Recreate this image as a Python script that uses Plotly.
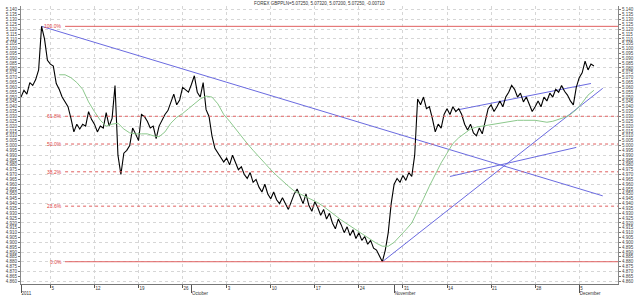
import plotly.graph_objects as go

# ---------------- data ----------------
close = [5.050, 5.057, 5.053, 5.065, 5.062, 5.068, 5.078, 5.123, 5.110, 5.088,
         5.084, 5.082, 5.064, 5.058, 5.050, 5.045, 5.040, 5.028, 5.014, 5.022,
         5.017, 5.022, 5.020, 5.035, 5.027, 5.022, 5.014, 5.020, 5.018, 5.034,
         5.020, 5.028, 5.062, 4.990, 4.970, 4.992, 4.995, 5.000, 5.018, 5.012,
         5.005, 5.032, 5.030, 5.025, 5.018, 5.020, 5.007, 5.020, 5.026, 5.032,
         5.036, 5.044, 5.053, 5.042, 5.047, 5.060, 5.057, 5.055, 5.063, 5.072,
         5.055, 5.050, 5.065, 5.037, 5.030, 5.010, 4.997, 4.992, 4.988, 4.983,
         4.987, 4.980, 4.990, 4.982, 4.975, 4.978, 4.970, 4.966, 4.972, 4.962,
         4.965, 4.957, 4.952, 4.960, 4.950, 4.945, 4.952, 4.944, 4.940, 4.946,
         4.940, 4.934, 4.942, 4.950, 4.955, 4.947, 4.940, 4.950, 4.938, 4.932,
         4.942, 4.936, 4.928, 4.934, 4.924, 4.930, 4.920, 4.914, 4.924, 4.918,
         4.910, 4.916, 4.907, 4.913, 4.904, 4.910, 4.902, 4.906, 4.898, 4.902,
         4.894, 4.892, 4.886, 4.880, 4.892, 4.910, 4.940, 4.960, 4.966, 4.962,
         4.969, 4.964, 4.972, 4.968, 4.990, 5.048, 5.042, 5.050, 5.038, 5.040,
         5.028, 5.014, 5.022, 5.018, 5.032, 5.038, 5.032, 5.040, 5.035, 5.038,
         5.032, 5.022, 5.016, 5.022, 5.013, 5.010, 5.018, 5.012, 5.025, 5.038,
         5.042, 5.035, 5.040, 5.046, 5.040, 5.050, 5.055, 5.062, 5.058, 5.050,
         5.054, 5.045, 5.050, 5.042, 5.035, 5.040, 5.046, 5.040, 5.050, 5.046,
         5.054, 5.050, 5.058, 5.055, 5.062, 5.056, 5.052, 5.046, 5.042, 5.060,
         5.070, 5.075, 5.087, 5.078, 5.084, 5.082]

ma_bars = list(range(13, 196, 2))
ma_vals = [5.073, 5.073, 5.070, 5.065, 5.058, 5.045, 5.035, 5.026, 5.020, 5.022,
           5.023, 5.017, 5.013, 5.012, 5.012, 5.012, 5.010, 5.009, 5.014, 5.023,
           5.029, 5.033, 5.038, 5.043, 5.048, 5.051, 5.050, 5.043, 5.032, 5.025,
           5.017, 5.009, 5.002, 4.995, 4.988, 4.982, 4.975, 4.969, 4.963, 4.958,
           4.953, 4.950, 4.947, 4.944, 4.941, 4.937, 4.932, 4.928, 4.923, 4.919,
           4.915, 4.911, 4.907, 4.903, 4.899, 4.896, 4.896, 4.900, 4.906, 4.913,
           4.920, 4.932, 4.945, 4.958, 4.970, 4.982, 4.992, 5.002, 5.008, 5.013,
           5.017, 5.019, 5.020, 5.021, 5.022, 5.023, 5.024, 5.025, 5.026, 5.026,
           5.026, 5.026, 5.025, 5.024, 5.025, 5.027, 5.029, 5.032, 5.037, 5.044,
           5.052, 5.057]

# trendlines: start bar, start price, end bar, end price
tl_x0 = [7, 123, 149, 146]
tl_y0 = [5.123, 4.880, 5.037, 4.968]
tl_x1 = [198, 198, 194, 189]
tl_y1 = [4.948, 5.059, 5.064, 4.998]

fib_ratios = [1.0, 0.618, 0.5, 0.382, 0.236, 0.0]
fib_labels = ["100.0%", "61.8%", "50.0%", "38.2%", "23.6%", "0.0%"]
fib_start = 15

week_ticks = [10, 25, 40, 55, 70, 85, 100, 115, 130, 145, 160, 175, 190]
week_labels = ["5", "12", "19", "26", "3", "10", "17", "24", "31", "14", "21", "28", "5"]
month_ticks = [0, 58, 127, 190]
month_labels = ["2011", "October", "November", "December"]

title_text = "FOREX GBPPLN=5.07250, 5.07320, 5.07200, 5.07250, -0.00710"

X_RANGE = [0, 203.2]
Y_RANGE = [4.857, 5.144]
FONT = "Liberation Sans"

fig = go.Figure()

# fibonacci retracement lines
hi, lo = max(close), min(close)
for r, lab in zip(fib_ratios, fib_labels):
    lvl = lo + r * (hi - lo)
    solid = r in (0.0, 1.0)
    fig.add_trace(go.Scatter(x=[fib_start, X_RANGE[1]], y=[lvl, lvl], mode="lines",
                             line=dict(color="#e06060", width=1, dash="solid" if solid else "dot"),
                             xaxis="x2", yaxis="y3", hoverinfo="skip"))
    fig.add_annotation(x=fib_start - 0.5, y=lvl, xref="x", yref="y", text=lab,
                       showarrow=False, xanchor="right", yanchor="middle",
                       font=dict(size=5, color="#e04040", family=FONT))

# trendlines
for a, b, c, d in zip(tl_x0, tl_y0, tl_x1, tl_y1):
    fig.add_trace(go.Scatter(x=[a, c], y=[b, d], mode="lines",
                             line=dict(color="#6a6ae0", width=1), hoverinfo="skip"))

# moving average
fig.add_trace(go.Scatter(x=ma_bars, y=ma_vals, mode="lines",
                         line=dict(color="#8cc88c", width=1), yaxis="y2"))

# price
fig.add_trace(go.Scatter(x=list(range(len(close))), y=close, mode="lines",
                         line=dict(color="#000000", width=1.1)))

tickfont = dict(size=4.5, color="#444", family=FONT)
common_y = dict(range=Y_RANGE, dtick=0.005, tick0=0, tickformat=".3f", ticks="outside",
                ticklen=2, tickcolor="#777", showgrid=False, zeroline=False,
                showline=True, linecolor="#888", linewidth=1, tickfont=tickfont)

fig.update_layout(
    width=640, height=302,
    margin=dict(l=13, r=13, t=6, b=9),
    paper_bgcolor="white", plot_bgcolor="white",
    showlegend=False,
    xaxis=dict(range=X_RANGE, tickvals=week_ticks, ticktext=week_labels,
               ticks="outside", ticklen=3, tickcolor="#555",
               ticklabelposition="outside right", ticklabelstandoff=0,
               showgrid=True, gridcolor="#d6d6d6", griddash="dot", gridwidth=1,
               showline=True, linecolor="#777", linewidth=1, zeroline=False,
               tickfont=dict(size=4.5, color="#333", family=FONT)),
    xaxis2=dict(range=X_RANGE, overlaying="x", side="bottom", tickvals=month_ticks,
                ticktext=month_labels, ticks="outside", ticklen=8, tickcolor="#555",
                ticklabelposition="outside right", ticklabelstandoff=5,
                showgrid=False, showline=False,
                zeroline=False, tickfont=dict(size=4.5, color="#333", family=FONT)),
    yaxis=dict(**common_y),
    yaxis2=dict(**common_y, overlaying="y", side="right"),
    yaxis3=dict(range=Y_RANGE, overlaying="y", dtick=0.01, tick0=0, showgrid=True,
                gridcolor="#d6d6d6", griddash="dot", showticklabels=False, ticks="",
                zeroline=False, showline=False),
)

fig.add_annotation(x=0.5, y=1.0, xref="paper", yref="paper", yshift=3, text=title_text,
                   showarrow=False, xanchor="center", yanchor="middle",
                   font=dict(size=4.5, color="#333", family=FONT))

fig.write_html("out.html")
